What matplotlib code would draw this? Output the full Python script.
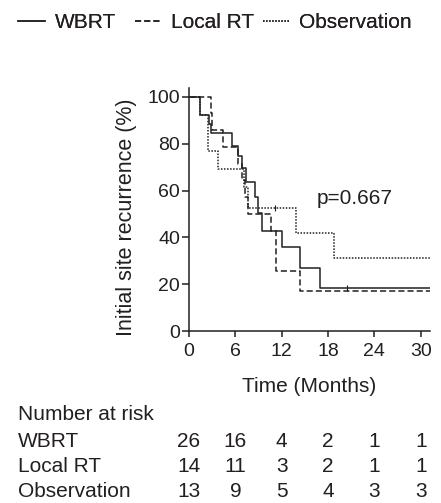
import matplotlib
matplotlib.use("Agg")
import matplotlib.pyplot as plt
from matplotlib.transforms import blended_transform_factory
from matplotlib.lines import Line2D

plt.rcParams['font.family'] = ['Liberation Sans', 'DejaVu Sans']

# ---- data ----
groups = ["WBRT", "Local RT", "Observation"]

wbrt_t = [0, 1.4, 2.6, 2.9, 5.6, 6.3, 6.8, 7.4, 8.5, 8.9, 9.5, 12.0, 14.4, 16.9]
wbrt_s = [100, 92.3, 88.5, 84.6, 79.2, 74.7, 69.4, 63.7, 57.3, 50.5, 42.9, 36.0, 27.0, 18.3]

local_t = [0, 2.8, 3.0, 4.4, 6.4, 6.8, 7.2, 7.7, 10.6, 11.2, 14.4]
local_s = [100, 92.9, 85.7, 78.6, 71.4, 64.3, 57.1, 50.0, 42.9, 25.7, 17.1]

obs_t = [0, 1.4, 2.4, 3.7, 7.1, 7.7, 13.8, 18.8]
obs_s = [100, 92.3, 76.9, 69.2, 61.5, 52.4, 41.9, 31.4]

followup_end = 31.4

censor_wbrt_t = [20.5]
censor_obs_t = [11.1]

p_value_text = "p=0.667"

risk_times = [0, 6, 12, 18, 24, 30]
risk_wbrt = [26, 16, 4, 2, 1, 1]
risk_local = [14, 11, 3, 2, 1, 1]
risk_obs = [13, 9, 5, 4, 3, 3]

x_ticks = [0, 6, 12, 18, 24, 30]
y_ticks = [0, 20, 40, 60, 80, 100]

# ---- style ----
C = '#231f20'
LW = 1.1
styles = {
    "WBRT": dict(linestyle='-'),
    "Local RT": dict(linestyle=(0, (4, 2))),
    "Observation": dict(linestyle=(0, (1, 1))),
}

W, H = 441, 503
fig = plt.figure(figsize=(W / 100, H / 100), dpi=100)
ax = fig.add_axes([189 / W, 1 - 331.2 / H, (430 - 189) / W, (331.2 - 88.3) / H])

def km(t, s):
    return list(t) + [followup_end], list(s) + [s[-1]]

for name, t, s in [("Observation", obs_t, obs_s), ("Local RT", local_t, local_s), ("WBRT", wbrt_t, wbrt_s)]:
    xx, yy = km(t, s)
    ax.step(xx, yy, where='post', color=C, lw=LW, **styles[name])

def surv_at(t, s, x):
    v = s[0]
    for ti, si in zip(t, s):
        if ti <= x:
            v = si
    return v

ax.plot(censor_wbrt_t, [surv_at(wbrt_t, wbrt_s, x) for x in censor_wbrt_t], ls='none',
        marker='|', ms=4, mew=0.8, color=C)
ax.plot(censor_obs_t, [surv_at(obs_t, obs_s, x) for x in censor_obs_t], ls='none',
        marker='|', ms=4, mew=0.8, color=C)

ax.set_xlim(0, 31.2)
ax.set_ylim(0, 103.6)
ax.set_xticks(x_ticks)
ax.set_yticks(y_ticks)
for sp in ['top', 'right']:
    ax.spines[sp].set_visible(False)
for sp in ['left', 'bottom']:
    ax.spines[sp].set_color(C)
    ax.spines[sp].set_linewidth(1.1)
ax.tick_params(axis='x', direction='out', length=4, width=1.1, color=C, labelsize=14,
               labelcolor=C, pad=4.5)
ax.tick_params(axis='y', direction='out', length=5, width=1.1, color=C, labelsize=14,
               labelcolor=C, pad=1.5)

ax.set_xlabel("Time (Months)", fontsize=15, color=C)
ax.xaxis.set_label_coords(0.5, -(377 - 331.2) / (331.2 - 88.3))
ax.set_ylabel("Initial site recurrence (%)", fontsize=15.5, color=C)
ax.yaxis.set_label_coords(-(189 - 137) / (430 - 189), (331.2 - 217) / (331.2 - 88.3))

ax.text(16.5, 56.7, p_value_text, fontsize=15, color=C, ha='left', va='center')

# legend: one entry per group, placed individually
legend_x_px = [18, 135, 263]
for g, xp in zip(groups, legend_x_px):
    h = Line2D([], [], color=C, lw=LW, **styles[g])
    leg = fig.legend([h], [g], loc='center left', bbox_to_anchor=(xp / W, 1 - 23 / H),
                     frameon=False, fontsize=15, handlelength=1.3, handletextpad=0.45,
                     borderpad=0, borderaxespad=0, labelcolor=C)
    fig.add_artist(leg)

# number at risk table
tr = blended_transform_factory(ax.transData, fig.transFigure)
rows_y = [1 - 441.7 / H, 1 - 466.7 / H, 1 - 491.7 / H]
fig.text(18 / W, 1 - 415 / H, "Number at risk", fontsize=15, color=C, ha='left', va='center')
for name, vals, yy in zip(groups, [risk_wbrt, risk_local, risk_obs], rows_y):
    fig.text(18 / W, yy, name, fontsize=15, color=C, ha='left', va='center')
    for tt, v in zip(risk_times, vals):
        ax.text(tt, yy, str(v), transform=tr, fontsize=15, color=C, ha='center', va='center')

fig.savefig("out.png", dpi=100)
